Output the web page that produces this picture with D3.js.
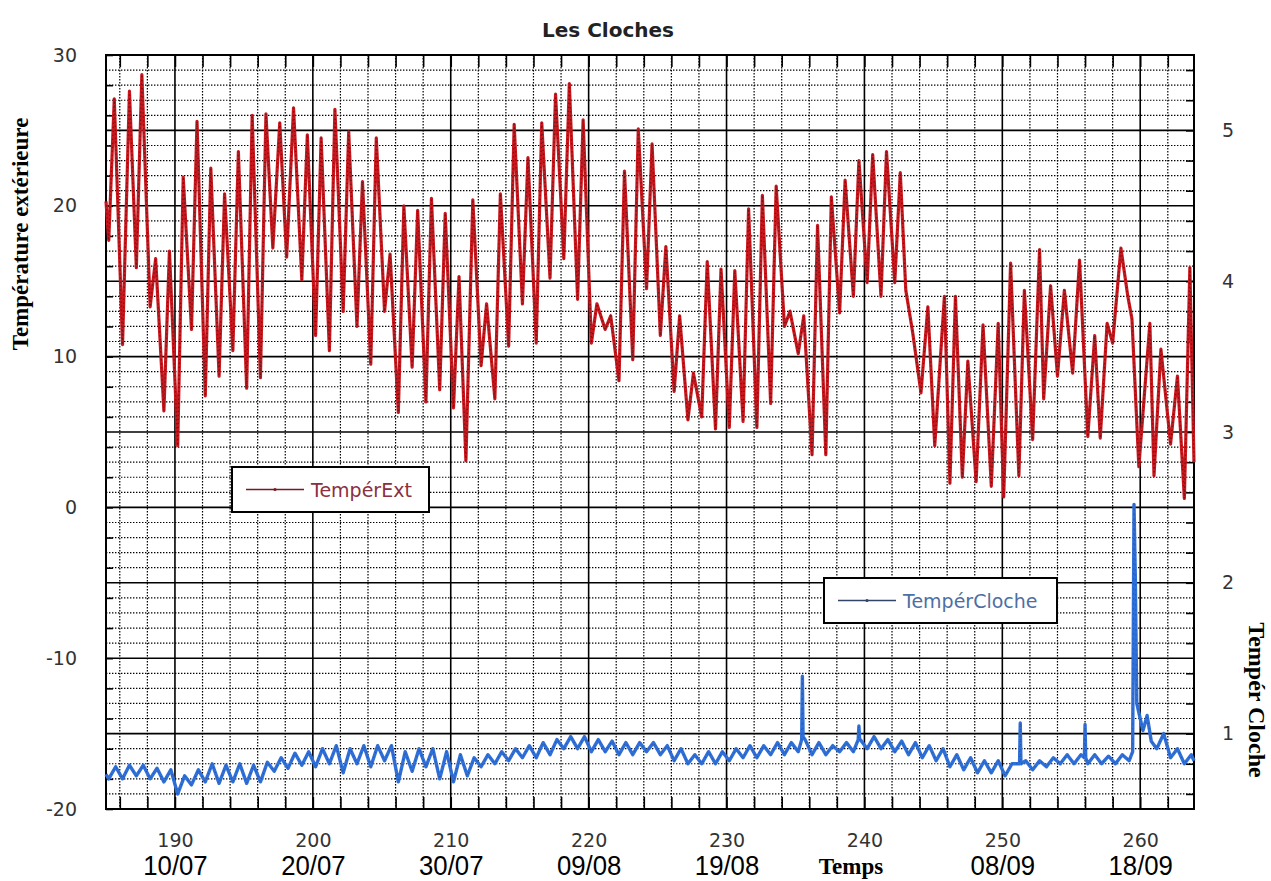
<!DOCTYPE html>
<html><head><meta charset="utf-8">
<script src="https://cdn.jsdelivr.net/npm/d3@7"></script>
<style>body{margin:0;background:#fff}</style>
</head><body><svg id="c" width="1271" height="881"></svg>
<script>
// ---------------- data ----------------
const chartTitle = "Les Cloches";
const xTicks = [190,200,210,220,230,240,250,260];
const dateLabels = ["10/07","20/07","30/07","09/08","19/08","","08/09","18/09"];
const yLeftTicks = [-20,-10,0,10,20,30];
const yRightTicks = [1,2,3,4,5];
const seriesNames = ["TempérExt","TempérCloche"];

const extDays = [185.0,185.2,185.6,186.2,186.7,187.2,187.6,188.2,188.6,189.2,189.6,190.2,190.6,191.2,191.6,192.2,192.6,193.2,193.6,194.2,194.6,195.2,195.6,196.2,196.6,197.1,197.6,198.1,198.6,199.2,199.6,200.2,200.6,201.2,201.6,202.2,202.6,203.2,203.6,204.2,204.6,205.2,205.6,206.2,206.6,207.2,207.6,208.2,208.6,209.2,209.6,210.2,210.6,211.1,211.6,212.2,212.6,213.2,213.6,214.2,214.6,215.2,215.6,216.2,216.6,217.2,217.6,218.2,218.6,219.2,219.6,220.2,220.6,221.2,221.6,222.2,222.6,223.2,223.6,224.2,224.6,225.2,225.6,226.2,226.6,227.2,227.6,228.2,228.6,229.2,229.6,230.2,230.6,231.2,231.6,232.2,232.6,233.2,233.6,234.2,234.6,235.2,235.6,236.2,236.6,237.2,237.6,238.2,238.6,239.2,239.6,240.2,240.6,241.2,241.6,242.2,242.6,243.0,243.5,244.1,244.6,245.1,245.8,246.2,246.6,247.1,247.5,248.1,248.6,249.2,249.7,250.1,250.6,251.2,251.6,252.2,252.7,253.0,253.5,254.0,254.5,255.1,255.6,256.2,256.7,257.1,257.6,258.0,258.6,259.1,259.4,259.9,260.7,261.0,261.5,262.2,262.7,263.2,263.6,263.9];
const extTemps = [20.3,17.7,27.1,10.8,27.6,15.9,28.7,13.3,16.5,6.4,17.0,4.1,21.9,11.8,25.6,7.4,22.5,8.7,20.8,10.4,23.6,7.9,26.0,8.6,26.1,17.2,25.5,16.6,26.5,15.1,24.7,11.4,24.5,10.4,26.4,13.0,24.9,12.0,21.6,9.5,24.5,13.0,16.8,6.3,20.0,9.3,19.7,7.0,20.5,7.8,19.5,6.6,15.3,3.1,20.4,9.4,13.5,7.2,20.8,10.7,25.4,13.5,23.2,10.9,25.5,15.2,27.4,16.5,28.1,13.8,25.7,10.9,13.5,11.8,12.7,8.4,22.3,9.8,25.1,14.5,24.1,11.4,17.3,7.7,12.7,5.8,8.9,6.0,16.3,5.2,15.8,5.3,15.7,5.7,19.8,5.3,20.7,6.9,21.3,12.0,13.0,10.2,12.7,3.5,18.7,3.5,20.6,12.9,21.7,14.0,23.0,14.9,23.4,14.0,23.6,14.9,22.2,14.4,11.6,7.6,13.3,4.1,14.0,1.6,14.0,2.0,9.7,1.7,12.1,1.4,12.2,0.7,16.2,2.1,14.4,4.5,17.1,7.2,14.7,8.7,14.4,8.9,16.4,4.7,11.4,4.6,12.2,10.9,17.2,14.0,12.5,2.7,12.2,2.1,10.5,4.2,8.7,0.6,15.9,3.0];

const clocheDays = [185.0,185.2,185.7,186.2,186.7,187.2,187.7,188.2,188.7,189.2,189.7,190.2,190.7,191.2,191.7,192.2,192.7,193.2,193.7,194.2,194.7,195.2,195.7,196.2,196.7,197.2,197.7,198.2,198.7,199.2,199.7,200.2,200.7,201.2,201.7,202.2,202.7,203.2,203.7,204.2,204.7,205.2,205.7,206.2,206.7,207.2,207.7,208.2,208.7,209.2,209.7,210.2,210.7,211.2,211.7,212.2,212.7,213.2,213.7,214.2,214.7,215.2,215.7,216.2,216.7,217.2,217.7,218.2,218.7,219.2,219.7,220.2,220.7,221.2,221.7,222.2,222.7,223.2,223.7,224.2,224.7,225.2,225.7,226.2,226.7,227.2,227.7,228.2,228.7,229.2,229.7,230.2,230.7,231.2,231.7,232.2,232.7,233.2,233.7,234.2,234.7,235.2,235.45,235.5,235.55,235.7,236.2,236.7,237.2,237.7,238.2,238.7,239.2,239.55,239.6,239.65,239.7,240.2,240.7,241.2,241.7,242.2,242.7,243.2,243.7,244.2,244.7,245.2,245.7,246.2,246.7,247.2,247.7,248.2,248.7,249.2,249.7,250.2,250.7,251.25,251.3,251.35,251.7,252.2,252.7,253.2,253.7,254.2,254.7,255.2,255.7,255.95,256.0,256.05,256.2,256.7,257.2,257.7,258.2,258.7,259.2,259.45,259.55,259.65,259.75,260.0,260.2,260.5,260.8,261.2,261.7,262.2,262.7,263.2,263.7,263.9];
const clocheTemps = [0.73,0.70,0.78,0.70,0.79,0.72,0.79,0.70,0.77,0.68,0.76,0.60,0.72,0.66,0.76,0.68,0.80,0.67,0.79,0.68,0.80,0.67,0.79,0.68,0.81,0.75,0.84,0.77,0.87,0.79,0.88,0.78,0.90,0.80,0.92,0.74,0.90,0.80,0.92,0.78,0.92,0.82,0.92,0.68,0.88,0.75,0.90,0.78,0.90,0.70,0.88,0.68,0.86,0.72,0.84,0.78,0.86,0.80,0.88,0.82,0.90,0.84,0.92,0.84,0.94,0.86,0.96,0.90,0.98,0.90,0.98,0.88,0.96,0.88,0.95,0.86,0.94,0.86,0.94,0.88,0.94,0.86,0.92,0.82,0.90,0.80,0.86,0.80,0.88,0.80,0.88,0.82,0.90,0.84,0.92,0.84,0.92,0.86,0.94,0.86,0.94,0.88,0.96,1.38,0.98,0.96,0.86,0.94,0.86,0.92,0.88,0.94,0.88,0.96,1.05,0.96,0.96,0.90,0.98,0.90,0.96,0.88,0.95,0.86,0.94,0.84,0.92,0.82,0.90,0.78,0.86,0.76,0.84,0.74,0.82,0.74,0.82,0.72,0.80,0.80,1.07,0.80,0.82,0.76,0.82,0.78,0.84,0.80,0.86,0.80,0.86,0.84,1.06,0.84,0.80,0.86,0.80,0.85,0.80,0.86,0.82,0.88,2.52,2.00,1.20,1.10,1.02,1.12,0.95,0.90,1.00,0.84,0.90,0.80,0.86,0.82];

// ---------------- layout ----------------
const svg = d3.select("#c");
const L = 106, R = 1194, T = 55, B = 809;
const x = d3.scaleLinear().domain([185, 263.9]).range([L, R]);
const yL = d3.scaleLinear().domain([-20, 30]).range([B, T]);
const yR = d3.scaleLinear().domain([0.5, 5.5]).range([B, T]);

svg.append("rect").attr("x",0).attr("y",0).attr("width",1271).attr("height",881).attr("fill","#fff");

const grid = svg.append("g");
d3.range(-19, 30, 1).forEach(v => {
  const solid = v % 5 === 0;
  grid.append("line").attr("x1",L).attr("x2",R).attr("y1",yL(v)).attr("y2",yL(v))
    .attr("stroke","#000").attr("stroke-width", solid ? 1.6 : 1.2)
    .attr("stroke-dasharray", solid ? null : "1.4,1.6");
});
d3.range(186, 264, 2).forEach(v => {
  const solid = v % 10 === 0;
  grid.append("line").attr("y1",T).attr("y2",B).attr("x1",x(v)).attr("x2",x(v))
    .attr("stroke","#000").attr("stroke-width", solid ? 1.6 : 1.2)
    .attr("stroke-dasharray", solid ? null : "1.4,1.6");
});

function styleTicks(g){ g.select(".domain").remove(); g.selectAll("line").attr("stroke","#000").attr("stroke-width",1.6); }
svg.append("g").attr("transform",`translate(${L},0)`)
  .call(d3.axisLeft(yL).tickValues(d3.range(-20,31,2)).tickSize(-7).tickFormat("")).call(styleTicks);
svg.append("g").attr("transform",`translate(${R},0)`)
  .call(d3.axisRight(yR).tickValues(d3.range(6,55,2).map(k=>k/10)).tickSize(-8).tickFormat("")).call(styleTicks);
svg.append("g").attr("transform",`translate(0,${B})`)
  .call(d3.axisBottom(x).tickValues(d3.range(186,264,2)).tickSize(-12).tickFormat("")).call(styleTicks);
svg.append("g").attr("transform",`translate(0,${T})`)
  .call(d3.axisTop(x).tickValues(d3.range(186,264,2)).tickSize(-12).tickFormat("")).call(styleTicks);

svg.append("rect").attr("x",L).attr("y",T).attr("width",R-L).attr("height",B-T)
  .attr("fill","none").attr("stroke","#000").attr("stroke-width",2);

// ---------------- series ----------------
const extData = extDays.map((d,i)=>[d, extTemps[i]]);
const clocheData = clocheDays.map((d,i)=>[d, clocheTemps[i]]);
const lineExt = d3.line().x(d=>x(d[0])).y(d=>yL(d[1]));
const lineCl = d3.line().x(d=>x(d[0])).y(d=>yR(d[1]));

svg.append("path").datum(extData).attr("d",lineExt).attr("fill","none")
  .attr("stroke","#c8171d").attr("stroke-width",3.2).attr("stroke-linejoin","round");
svg.append("path").datum(extData).attr("d",lineExt).attr("fill","none")
  .attr("stroke","#6e1217").attr("stroke-width",1.3).attr("stroke-dasharray","1.2,2.8");

svg.append("path").datum(clocheData).attr("d",lineCl).attr("fill","none")
  .attr("stroke","#2f6fd8").attr("stroke-width",3.4).attr("stroke-linejoin","round");
svg.append("path").datum(clocheData).attr("d",lineCl).attr("fill","none")
  .attr("stroke","#28509a").attr("stroke-width",1).attr("stroke-dasharray","1,4");

// ---------------- axes labels ----------------
function styleLabels(g, family, size, color){
  g.select(".domain").remove();
  g.selectAll("line").remove();
  g.selectAll("text").attr("font-family",family).attr("font-size",size).attr("fill",color);
}
svg.append("g").attr("transform",`translate(${L},0)`)
  .call(d3.axisLeft(yL).tickValues(yLeftTicks).tickSize(0).tickPadding(29).tickFormat(d=>String(d)))
  .call(g=>styleLabels(g,"DejaVu Sans","19px","#333"));
svg.append("g").attr("transform",`translate(${R},0)`)
  .call(d3.axisRight(yR).tickValues(yRightTicks).tickSize(0).tickPadding(28).tickFormat(d=>String(d)))
  .call(g=>styleLabels(g,"DejaVu Sans","19px","#333"));
svg.append("g").attr("transform",`translate(0,${B})`)
  .call(d3.axisBottom(x).tickValues(xTicks).tickSize(0).tickPadding(24.5).tickFormat(d=>String(d)))
  .call(g=>styleLabels(g,"DejaVu Sans","19px","#333"));
svg.append("g").attr("transform",`translate(0,${B})`)
  .call(d3.axisBottom(x).tickValues(xTicks).tickSize(0).tickPadding(46).tickFormat((d,i)=>dateLabels[i]))
  .call(g=>{
    styleLabels(g,"'Liberation Sans', Arial, sans-serif","28px","#000");
    g.selectAll("text").attr("transform","scale(0.92,1)");
  });

// titles
svg.append("text").attr("x",608).attr("y",37).attr("text-anchor","middle")
  .attr("font-family","DejaVu Sans").attr("font-weight","bold").attr("font-size","20px").attr("fill","#222")
  .text(chartTitle);
svg.append("text").attr("transform","translate(28,234) rotate(-90)").attr("text-anchor","middle")
  .attr("font-family","'Liberation Serif', serif").attr("font-weight","bold").attr("font-size","23px").attr("fill","#000")
  .text("Température extérieure");
svg.append("text").attr("transform","translate(1249,700) rotate(90)").attr("text-anchor","middle")
  .attr("font-family","'Liberation Serif', serif").attr("font-weight","bold").attr("font-size","24px").attr("fill","#000")
  .text("Tempér Cloche");
svg.append("text").attr("x",851).attr("y",874).attr("text-anchor","middle")
  .attr("font-family","'Liberation Serif', serif").attr("font-weight","bold").attr("font-size","23px").attr("fill","#000")
  .text("Temps");

// ---------------- legends ----------------
function legend(bx, by, bw, bh, name, lineColor, textColor){
  const g = svg.append("g");
  g.append("rect").attr("x",bx).attr("y",by).attr("width",bw).attr("height",bh)
    .attr("fill","#fff").attr("stroke","#000").attr("stroke-width",2);
  const cy = by + bh/2;
  g.append("line").attr("x1",bx+14).attr("x2",bx+72).attr("y1",cy).attr("y2",cy)
    .attr("stroke",lineColor).attr("stroke-width",1.5);
  g.append("circle").attr("cx",bx+43).attr("cy",cy).attr("r",1.6).attr("fill",lineColor);
  g.append("text").attr("x",bx+79).attr("y",cy+7).attr("font-family","DejaVu Sans").attr("font-size","19px")
    .attr("fill",textColor).text(name);
}
legend(232, 467, 197, 45, seriesNames[0], "#7a1a20", "#8a3040");
legend(824, 578, 233, 45, seriesNames[1], "#334466", "#4d6fa3");
</script></body></html>
